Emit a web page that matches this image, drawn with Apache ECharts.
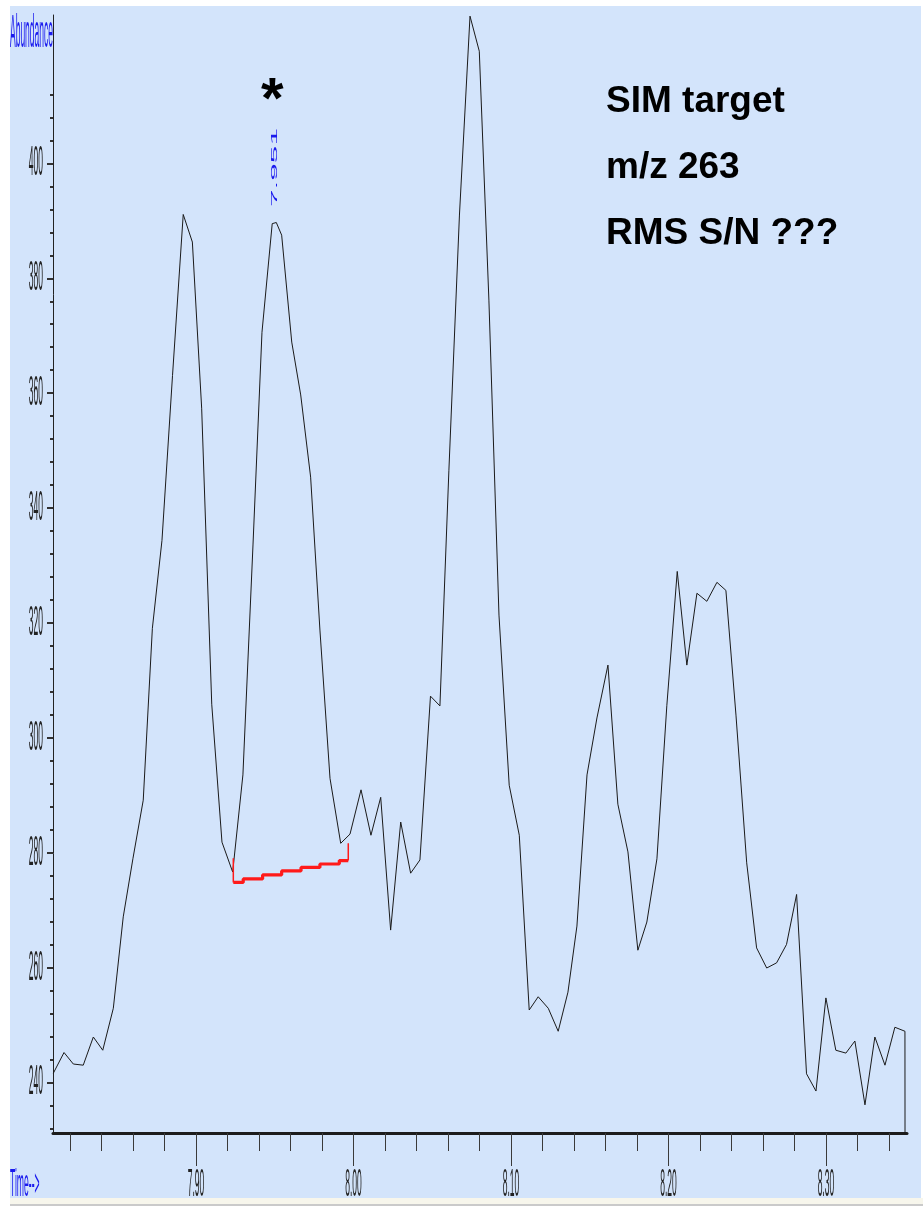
<!DOCTYPE html>
<html>
<head>
<meta charset="utf-8">
<title>SIM target m/z 263</title>
<script src="https://cdn.jsdelivr.net/npm/echarts@6/dist/echarts.min.js"></script>
<style>
  html, body { margin: 0; padding: 0; background: #ffffff; width: 923px; height: 1208px; overflow: hidden; }
  #panel { position: absolute; left: 10px; top: 6px; width: 911px; height: 1192px; background: #d3e4fb; }
  #strip { position: absolute; left: 10px; top: 1198px; width: 913px; height: 6px; background: #f7f6ec; }
  #rule  { position: absolute; left: 10px; top: 1204px; width: 913px; height: 2px; background: #cacaca; }
  #chart { position: absolute; left: 0; top: 0; width: 923px; height: 1208px; }
</style>
</head>
<body>
<div id="panel"></div>
<div id="strip"></div>
<div id="rule"></div>
<div id="chart"></div>
<script>
// Retention time (min) of each scan and the ion abundance recorded for m/z 263
const times = [7.8094, 7.8162, 7.8221, 7.8284, 7.8348, 7.8408, 7.8475, 7.8538, 7.8600, 7.8665,
  7.8723, 7.8784, 7.8851, 7.8919, 7.8977, 7.9036, 7.9100, 7.9165, 7.9233, 7.9298,
  7.9362, 7.9419, 7.9484, 7.9510, 7.9544, 7.9608, 7.9665, 7.9728, 7.9787, 7.9851,
  7.9919, 7.9978, 8.0048, 8.0111, 8.0173, 8.0236, 8.0300, 8.0363, 8.0422, 8.0489,
  8.0549, 8.0606, 8.0673, 8.0740, 8.0799, 8.0860, 8.0924, 8.0989, 8.1053, 8.1116,
  8.1173, 8.1237, 8.1300, 8.1362, 8.1419, 8.1483, 8.1546, 8.1616, 8.1679, 8.1743,
  8.1806, 8.1863, 8.1927, 8.1990, 8.2056, 8.2117, 8.2181, 8.2244, 8.2308, 8.2365,
  8.2429, 8.2497, 8.2560, 8.2624, 8.2687, 8.2750, 8.2814, 8.2877, 8.2937, 8.3000,
  8.3063, 8.3127, 8.3184, 8.3248, 8.3311, 8.3375, 8.3438, 8.3502, 8.3508];
const abundance = [241.7, 245.3, 243.3, 243.1, 248.0, 245.7, 253.0, 268.9, 279.1, 289.2,
  319.1, 334.4, 363.1, 391.1, 386.3, 357.4, 305.9, 281.9, 276.7, 293.6,
  333.6, 370.6, 389.5, 389.7, 387.5, 368.9, 359.7, 345.4, 318.8, 293.0,
  281.7, 283.3, 291.0, 283.1, 289.7, 266.6, 285.4, 276.5, 278.8, 307.3,
  305.6, 346.6, 391.0, 425.6, 419.5, 376.2, 321.4, 291.8, 283.1, 252.7,
  255.0, 253.0, 249.0, 255.8, 267.3, 293.6, 303.5, 312.7, 288.5, 280.2,
  263.1, 268.0, 279.0, 305.7, 329.0, 312.7, 325.2, 323.8, 327.1, 325.7,
  304.0, 278.3, 263.5, 260.0, 260.9, 264.1, 272.8, 241.6, 238.6, 254.8,
  245.7, 245.2, 247.3, 236.2, 248.0, 243.1, 249.7, 249.0, 0];

// Integration baseline under the 7.951 min peak (drawn as the instrument's stepped line)
const baselineTimes  = [7.9237, 7.9300, 7.9423, 7.9544, 7.9667, 7.9787, 7.9910, 7.9967];
const baselineLevels = [274.9, 275.5, 276.2, 276.9, 277.5, 278.1, 278.7, 278.7];
const baselineStartTick = [279.1, 274.9];
const baselineEndTick   = [278.7, 281.7];

// Marked peak
const peakTime = 7.951;
const peakAbundance = 389.7;
const peakLabel = '7.951';

// Axis ranges and ticks
const X_MIN = 7.8092, X_MAX = 8.3515;
const Y_MIN = 231.3, Y_MAX = 425.8;
const xMajorTicks = [7.90, 8.00, 8.10, 8.20, 8.30];
const xTickLabels = ['7.90', '8.00', '8.10', '8.20', '8.30'];
const xMinorTicks = [7.82, 7.84, 7.86, 7.88, 7.92, 7.94, 7.96, 7.98, 8.02, 8.04, 8.06, 8.08,
  8.12, 8.14, 8.16, 8.18, 8.22, 8.24, 8.26, 8.28, 8.32, 8.34];
const yMajorTicks = [240, 260, 280, 300, 320, 340, 360, 380, 400];
const yTickLabels = ['240', '260', '280', '300', '320', '340', '360', '380', '400'];
const yMinorTicks = [232, 236, 244, 248, 252, 256, 264, 268, 272, 276, 284, 288, 292, 296,
  304, 308, 312, 316, 324, 328, 332, 336, 344, 348, 352, 356, 364, 368, 372, 376,
  384, 388, 392, 396, 404, 408, 412];

// Annotation text
const infoLines = ['SIM target', 'm/z 263', 'RMS S/N ???'];
const yAxisTitle = 'Abundance';
const xAxisTitle = 'Time-->';

const FONT = '"Liberation Sans", Arial, sans-serif';
const INK = '#222222';
const BLUE = '#1a1aee';
const TRACE = '#1a1a1a';
const RED = '#ff1a1a';

const chart = echarts.init(document.getElementById('chart'), null, { renderer: 'canvas' });

function valueAxis(min, max, position, extra) {
  return Object.assign({
    type: 'value', min: min, max: max, position: position,
    axisLabel: { show: false },
    splitLine: { show: false },
    splitArea: { show: false }
  }, extra);
}

chart.setOption({
  animation: false,
  backgroundColor: 'transparent',
  grid: { left: 53, right: 16, top: 15, bottom: 75, containLabel: false, outerBoundsMode: 'none' },
  xAxis: [
    valueAxis(X_MIN, X_MAX, 'bottom', {
      axisLine: { show: true, onZero: false, lineStyle: { color: '#1c1c1c', width: 3 } },
      axisTick: { show: true, customValues: xMajorTicks, length: 33, lineStyle: { color: '#3a3a3a', width: 1 } }
    }),
    valueAxis(X_MIN, X_MAX, 'bottom', {
      axisLine: { show: false, onZero: false },
      axisTick: { show: true, customValues: xMinorTicks, length: 18, lineStyle: { color: '#3a3a3a', width: 1 } }
    })
  ],
  yAxis: [
    valueAxis(Y_MIN, Y_MAX, 'left', {
      axisLine: { show: true, onZero: false, lineStyle: { color: '#222222', width: 1 } },
      axisTick: { show: true, customValues: yMajorTicks, length: 6, lineStyle: { color: '#333333', width: 2 } }
    }),
    valueAxis(Y_MIN, Y_MAX, 'left', {
      axisLine: { show: false, onZero: false },
      axisTick: { show: true, customValues: yMinorTicks, length: 3, lineStyle: { color: '#333333', width: 2 } }
    })
  ],
  series: [
    {
      name: 'm/z 263', type: 'line', xAxisIndex: 0, yAxisIndex: 0,
      data: times.map((t, i) => [t, abundance[i]]),
      symbol: 'none', showSymbol: false, clip: true, silent: true, z: 3,
      lineStyle: { color: TRACE, width: 1 }
    },
    {
      name: 'baseline', type: 'line', xAxisIndex: 0, yAxisIndex: 0, step: 'end',
      data: baselineTimes.map((t, i) => [t, baselineLevels[i]]),
      symbol: 'none', silent: true, z: 4,
      lineStyle: { color: RED, width: 3.2 }
    },
    {
      name: 'baseline start', type: 'line', xAxisIndex: 0, yAxisIndex: 0,
      data: baselineStartTick.map(v => [baselineTimes[0], v]),
      symbol: 'none', silent: true, z: 4,
      lineStyle: { color: RED, width: 1.5 }
    },
    {
      name: 'baseline end', type: 'line', xAxisIndex: 0, yAxisIndex: 0,
      data: baselineEndTick.map(v => [baselineTimes[baselineTimes.length - 1], v]),
      symbol: 'none', silent: true, z: 4,
      lineStyle: { color: RED, width: 1.5 }
    }
  ]
});

// Tick labels and titles use a tall, narrow face; they are placed from the axes' own scales.
const xPix = t => chart.convertToPixel({ xAxisIndex: 0 }, t);
const yPix = v => chart.convertToPixel({ yAxisIndex: 0 }, v);

function stretchedText(text, x, y, opts) {
  return {
    type: 'text', x: x, y: y, silent: true, z: 10,
    rotation: opts.rotation || 0,
    scaleX: opts.scaleX || 1,
    scaleY: opts.scaleY || 1,
    style: {
      text: text,
      font: (opts.weight || 'normal') + ' ' + opts.size + 'px ' + FONT,
      fill: opts.color || INK,
      align: opts.align || 'center', textAlign: opts.align || 'center',
      verticalAlign: opts.vAlign || 'middle', textVerticalAlign: opts.vAlign || 'middle'
    }
  };
}

const axisBottom = yPix(Y_MIN);
const axisLeft = xPix(X_MIN);
const elements = [];

yMajorTicks.forEach((v, i) => {
  elements.push(stretchedText(yTickLabels[i], axisLeft - 10, yPix(v), { size: 8.5, scaleY: 4.9, align: 'right' }));
});
xMajorTicks.forEach((t, i) => {
  elements.push(stretchedText(xTickLabels[i], xPix(t), axisBottom + 52, { size: 8.5, scaleY: 4.6 }));
});

elements.push(stretchedText(yAxisTitle, 10, 34, { size: 8.5, scaleY: 5.4, align: 'left', color: BLUE }));
elements.push(stretchedText(xAxisTitle, 10, axisBottom + 52, { size: 8.6, scaleY: 4.5, align: 'left', color: BLUE }));

// Retention-time label above the marked peak, written upward (counter-clockwise)
const peakX = xPix(peakTime);
const peakY = yPix(peakAbundance);
elements.push(stretchedText(peakLabel, peakX - 2, peakY - 55, { size: 9, scaleX: 3.5, rotation: Math.PI / 2, color: BLUE }));
elements.push(stretchedText('*', peakX - 4, peakY - 121, { size: 58, weight: 'bold', color: '#000000' }));

// Method notes
[101.8, 167.5, 233.5].forEach((cy, i) => {
  elements.push(stretchedText(infoLines[i], 606, cy, { size: 37, weight: 'bold', align: 'left', color: '#000000' }));
});

chart.setOption({ graphic: { elements: elements } });
</script>
</body>
</html>
